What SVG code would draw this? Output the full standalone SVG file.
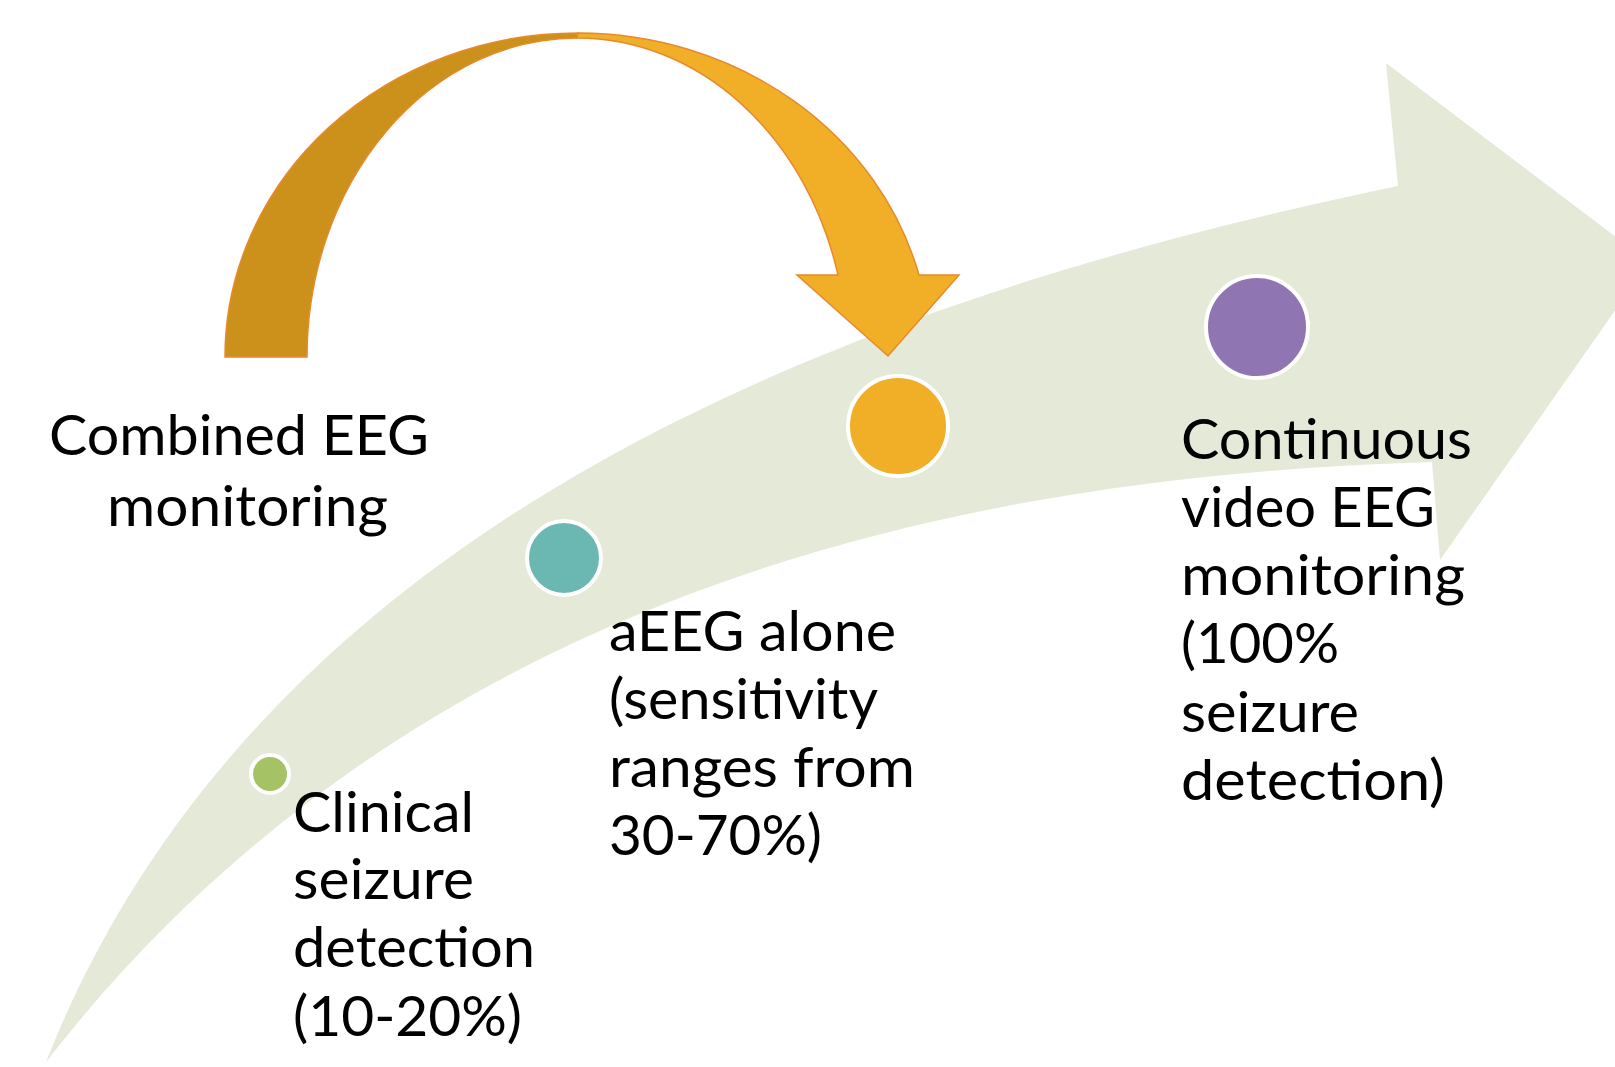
<svg xmlns="http://www.w3.org/2000/svg" width="1615" height="1067" viewBox="0 0 1615 1067">
  <style>
    .lbl { font-family: Lato, "Open Sans", "Liberation Sans", sans-serif; font-size: 56px; fill: #000000; }
    .dot { stroke: #FFFFFF; stroke-width: 4; }
    .band { fill: #E4E9D8; }
    .arcDark { fill: #CB911B; stroke: #E8892C; stroke-width: 1.5; stroke-linejoin: miter; }
    .arcLight { fill: #F0AF27; stroke: #E8892C; stroke-width: 1.5; stroke-linejoin: miter; }
  </style>
  <rect x="0" y="0" width="1615" height="1067" fill="#FFFFFF"/>

  <g id="timeline-band">
    <path class="band" d="M46,1062 C260,520 850,300 1398,186 L1386,63 L1649,262 L1440,560 L1432,462 C1000,475 426,572 46,1062 Z"/>
  </g>

  <g id="connectors">
    <path class="arcDark" d="M225,357 A353,324 0 0 1 578,33 L577,38 A270,319 0 0 0 307,357 Z"/>
    <path class="arcLight" d="M578,33 A353,324 0 0 1 919,275 L959,275 L888,356 L797,275 L838,275 A270,319 0 0 0 577,38 Z"/>
  </g>

  <g id="node-clinical">
    <circle class="dot" cx="270" cy="774" r="19" fill="#A5C264"/>
    <text class="lbl" x="293" y="832" textLength="181" lengthAdjust="spacingAndGlyphs">Clinical</text>
    <text class="lbl" x="293" y="899" textLength="181" lengthAdjust="spacingAndGlyphs">seizure</text>
    <text class="lbl" x="293" y="967" textLength="242" lengthAdjust="spacingAndGlyphs">detection</text>
    <text class="lbl" x="293" y="1036" textLength="229" lengthAdjust="spacingAndGlyphs">(10-20%)</text>
  </g>

  <g id="node-aeeg">
    <circle class="dot" cx="564" cy="558" r="37" fill="#6BB8B3"/>
    <text class="lbl" x="609" y="651" textLength="287" lengthAdjust="spacingAndGlyphs">aEEG alone</text>
    <text class="lbl" x="609" y="719" textLength="269" lengthAdjust="spacingAndGlyphs">(sensitivity</text>
    <text class="lbl" x="609" y="787" textLength="306" lengthAdjust="spacingAndGlyphs">ranges from</text>
    <text class="lbl" x="609" y="855" textLength="213" lengthAdjust="spacingAndGlyphs">30-70%)</text>
  </g>

  <g id="node-combined">
    <circle class="dot" cx="898" cy="426" r="50" fill="#F0AF27"/>
    <text class="lbl" x="49" y="455" textLength="380" lengthAdjust="spacingAndGlyphs">Combined EEG</text>
    <text class="lbl" x="107" y="526" textLength="281" lengthAdjust="spacingAndGlyphs">monitoring</text>
  </g>

  <g id="node-continuous">
    <circle class="dot" cx="1257" cy="327" r="51" fill="#8F76B2"/>
    <text class="lbl" x="1181" y="459" textLength="291" lengthAdjust="spacingAndGlyphs">Continuous</text>
    <text class="lbl" x="1181" y="527" textLength="254" lengthAdjust="spacingAndGlyphs">video EEG</text>
    <text class="lbl" x="1181" y="595" textLength="284" lengthAdjust="spacingAndGlyphs">monitoring</text>
    <text class="lbl" x="1181" y="663" textLength="158" lengthAdjust="spacingAndGlyphs">(100%</text>
    <text class="lbl" x="1181" y="732" textLength="178" lengthAdjust="spacingAndGlyphs">seizure</text>
    <text class="lbl" x="1181" y="800" textLength="264" lengthAdjust="spacingAndGlyphs">detection)</text>
  </g>
</svg>
